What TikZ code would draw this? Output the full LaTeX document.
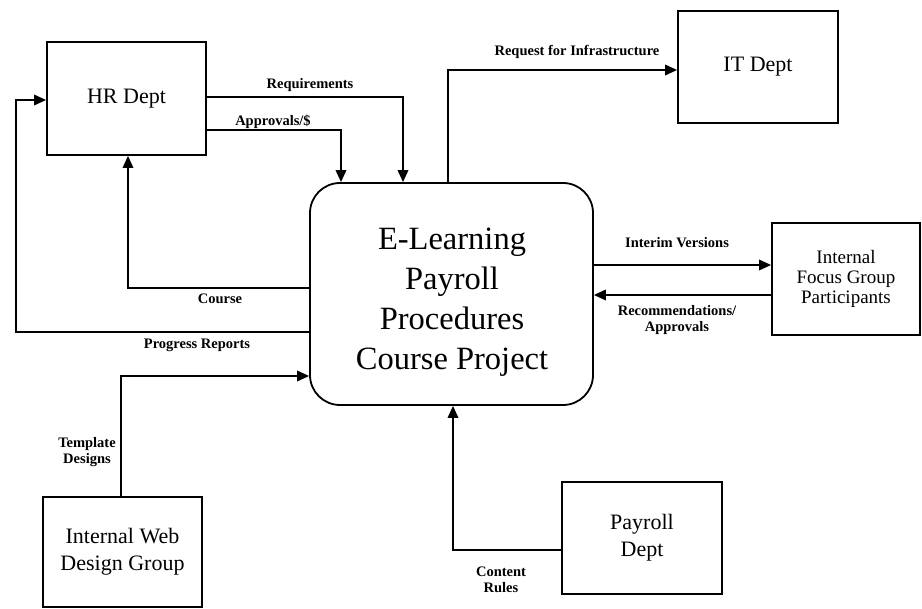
\documentclass[tikz,border=0pt]{standalone}
\usepackage{fontspec}
\setmainfont{Liberation Serif}
\usetikzlibrary{arrows.meta}
\begin{document}
\begin{tikzpicture}[x=1pt,y=-1pt,
  line width=1.8pt,
  ext/.style={draw, rectangle, align=center, inner sep=0pt, font=\fontsize{22}{27}\selectfont},
  hub/.style={draw, rectangle, rounded corners=30pt, inner sep=0pt,
    minimum width=283pt, minimum height=222pt},
  hubtext/.style={align=center, inner sep=0pt, font=\fontsize{32.5}{40}\selectfont},
  arr/.style={-{Triangle[length=12pt,width=10.5pt]}},
  lbl/.style={font=\bfseries\fontsize{14.5}{16}\selectfont, align=center, inner sep=0pt}]
\useasboundingbox (0,0) rectangle (922,609);

\node[ext, minimum width=159pt, minimum height=113pt] (HR) at (126.5,98.5) {HR Dept};
\node[ext, minimum width=160pt, minimum height=112pt] (IT) at (758,67) {IT Dept};
\node[ext, minimum width=148pt, minimum height=112pt, font=\fontsize{19}{20}\selectfont] (Focus) at (846,279) {Internal\\Focus Group\\Participants};
\node[ext, minimum width=160pt, minimum height=112pt] (Payroll) at (642,538) {Payroll\\Dept};
\node[ext, minimum width=159pt, minimum height=110pt] (Web) at (122.5,552) {Internal Web\\Design Group};
\node[hub] (C) at (451.5,294) {};
\node[hubtext] (Ctext) at (452,302) {E-Learning\\Payroll\\Procedures\\Course Project};

% HR -> project
\draw[arr] (HR.east |- 0,97) -| (C.north -| 403,0);
\draw[arr] (HR.east |- 0,130) -| (C.north -| 341,0);
% project -> IT
\draw[arr] (C.north -| 448,0) |- (IT.west |- 0,70);
% project -> HR
\draw[arr] (C.west |- 0,288) -| (HR.south -| 128,0);
\draw[arr] (C.west |- 0,332) -| ([xshift=-30pt]HR.west |- 0,100) -- (HR.west |- 0,100);
% Web -> project
\draw[arr] (Web.north -| 121,0) |- (C.west |- 0,376);
% project <-> focus
\draw[arr] (C.east |- 0,265) -- (Focus.west |- 0,265);
\draw[arr] (Focus.west |- 0,295) -- (C.east |- 0,295);
% Payroll -> project
\draw[arr] (Payroll.west |- 0,550) -| (C.south -| 453,0);

\node[lbl] (lreq) at (310,85) {Requirements};
\node[lbl] (lapp) at (273,122) {Approvals/\$};
\node[lbl] (linf) at (577,52) {Request for Infrastructure};
\node[lbl] (lcou) at (220,299) {Course};
\node[lbl] (lpro) at (197,345) {Progress Reports};
\node[lbl] (lint) at (677,243) {Interim Versions};
\node[lbl] (lrec) at (677,320) {Recommendations/\\Approvals};
\node[lbl] (ltem) at (87,452) {Template\\Designs};
\node[lbl] (lcon) at (501,580) {Content\\Rules};
\end{tikzpicture}
\end{document}
